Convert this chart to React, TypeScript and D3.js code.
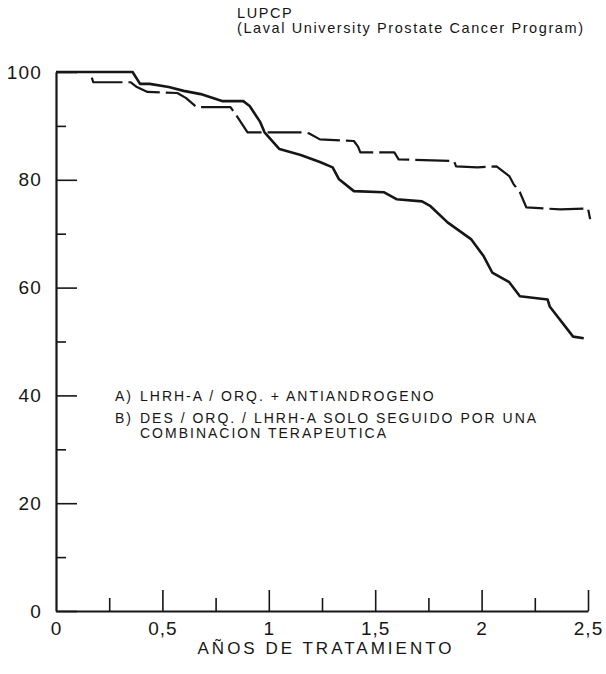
import React, { useEffect, useRef } from 'react';
import * as d3 from 'd3';

// curve: solid line (ends near 50 %)
const solidYears = [0, 0.36, 0.395, 0.44, 0.53, 0.6, 0.68, 0.78, 0.88, 0.91, 0.96, 0.98, 1.05, 1.15, 1.24, 1.3, 1.33, 1.4, 1.54, 1.6, 1.72, 1.76, 1.84, 1.95, 2.01, 2.05, 2.13, 2.18, 2.31, 2.32, 2.43, 2.48];
const solidPct = [100, 100, 97.8, 97.8, 97.2, 96.5, 95.9, 94.6, 94.6, 93.7, 90.7, 88.8, 85.7, 84.6, 83.3, 82.3, 80.1, 77.9, 77.7, 76.4, 76.0, 75.1, 72.1, 69.0, 65.8, 62.8, 61.0, 58.4, 57.8, 56.5, 50.9, 50.6];

// broken line (ends near 73 %)
const dashYears = [0, 0.16, 0.175, 0.35, 0.38, 0.43, 0.57, 0.61, 0.66, 0.82, 0.85, 0.9, 1.05, 1.15, 1.19, 1.24, 1.4, 1.42, 1.43, 1.59, 1.61, 1.87, 1.88, 1.98, 2.07, 2.13, 2.15, 2.18, 2.21, 2.37, 2.5, 2.51];
const dashPct = [100, 100, 98.1, 98.1, 97.2, 96.3, 96.1, 95.2, 93.5, 93.5, 91.8, 88.8, 88.8, 88.8, 88.6, 87.5, 87.2, 86.1, 85.1, 85.1, 83.8, 83.5, 82.5, 82.3, 82.5, 80.7, 79.2, 77.7, 74.9, 74.5, 74.7, 72.7];

const yMajor = [0, 20, 40, 60, 80, 100];
const yMinor = [10, 30, 50, 70, 90];
const xMajor = [0, 0.5, 1, 1.5, 2, 2.5];
const xMinor = [0.25, 0.75, 1.25, 1.75, 2.25];

const titleLines = ['LUPCP', '(Laval University Prostate Cancer Program)'];
const legendKeys = ['A)', 'B)'];
const legendLines = [
  ['LHRH-A / ORQ. + ANTIANDROGENO'],
  ['DES / ORQ. / LHRH-A SOLO SEGUIDO POR UNA', 'COMBINACION TERAPEUTICA'],
];
const xTitle = 'AÑOS DE TRATAMIENTO';

const FONT = '"Liberation Sans", Arial, sans-serif';
const INK = '#161616';

function App() {
  const svgRef = useRef(null);

  useEffect(() => {
    const svg = d3.select(svgRef.current);
    svg.selectAll('*').remove();

    const x = d3.scaleLinear().domain([0, 2.5]).range([56, 588]);
    const y = d3.scaleLinear().domain([0, 100]).range([611, 72]);

    const fmt = (d) => String(d).replace('.', ',');

    // y axis: ticks point inward
    svg.append('g')
      .attr('transform', `translate(${x(0)},0)`)
      .call(d3.axisLeft(y).tickValues(yMajor).tickSizeInner(-21).tickSizeOuter(0).tickPadding(14).tickFormat(d => d))
      .call(g => g.select('.domain').attr('stroke', INK).attr('stroke-width', 2.2))
      .call(g => g.selectAll('.tick line').attr('stroke', INK).attr('stroke-width', 1.6))
      .call(g => g.selectAll('.tick text')
        .attr('font-family', FONT).attr('font-size', 19).attr('letter-spacing', 1.2).attr('fill', INK));

    svg.append('g')
      .attr('transform', `translate(${x(0)},0)`)
      .call(d3.axisLeft(y).tickValues(yMinor).tickSizeInner(-10).tickSizeOuter(0).tickFormat(''))
      .call(g => g.select('.domain').remove())
      .call(g => g.selectAll('.tick line').attr('stroke', INK).attr('stroke-width', 1.6));

    // x axis: ticks point upward
    svg.append('g')
      .attr('transform', `translate(0,${y(0)})`)
      .call(d3.axisBottom(x).tickValues(xMajor).tickSizeInner(-21).tickSizeOuter(0).tickPadding(11).tickFormat(fmt))
      .call(g => g.select('.domain').attr('stroke', INK).attr('stroke-width', 2.2))
      .call(g => g.selectAll('.tick line').attr('stroke', INK).attr('stroke-width', 1.6)
        .attr('opacity', d => (d === 0 ? 0 : 1)))
      .call(g => g.selectAll('.tick text')
        .attr('font-family', FONT).attr('font-size', 19).attr('letter-spacing', 1).attr('fill', INK));

    svg.append('g')
      .attr('transform', `translate(0,${y(0)})`)
      .call(d3.axisBottom(x).tickValues(xMinor).tickSizeInner(-13).tickSizeOuter(0).tickFormat(''))
      .call(g => g.select('.domain').remove())
      .call(g => g.selectAll('.tick line').attr('stroke', INK).attr('stroke-width', 1.6));

    svg.append('text')
      .attr('x', (x(0) + x(2.5)) / 2 + 4)
      .attr('y', 654)
      .attr('text-anchor', 'middle')
      .attr('font-family', FONT)
      .attr('font-size', 17)
      .attr('letter-spacing', 3)
      .attr('fill', INK)
      .text(xTitle);

    // title
    svg.append('g')
      .selectAll('text')
      .data(titleLines)
      .join('text')
      .attr('x', 237)
      .attr('y', (d, i) => 18 + i * 15)
      .attr('font-family', FONT)
      .attr('font-size', 14.5)
      .attr('letter-spacing', 1.6)
      .attr('fill', INK)
      .text(d => d);

    // curves
    const line = d3.line()
      .x(d => x(d[0]))
      .y(d => y(d[1]));

    const solid = solidYears.map((t, i) => [t, solidPct[i]]);
    const dashed = dashYears.map((t, i) => [t, dashPct[i]]);

    svg.append('path')
      .datum(dashed)
      .attr('fill', 'none')
      .attr('stroke', INK)
      .attr('stroke-width', 2.2)
      .attr('stroke-dasharray', '34 6')
      .attr('stroke-linejoin', 'round')
      .attr('d', line);

    svg.append('path')
      .datum(solid)
      .attr('fill', 'none')
      .attr('stroke', INK)
      .attr('stroke-width', 2.6)
      .attr('stroke-linejoin', 'round')
      .attr('d', line);

    // legend
    const legend = svg.append('g')
      .attr('font-family', FONT)
      .attr('font-size', 14)
      .attr('letter-spacing', 2)
      .attr('fill', INK);

    let rowY = 401;
    legendKeys.forEach((key, i) => {
      legend.append('text').attr('x', 115).attr('y', rowY).text(key);
      legendLines[i].forEach((txt, j) => {
        legend.append('text').attr('x', 140).attr('y', rowY + j * 15).text(txt);
      });
      rowY += 22 + (legendLines[i].length - 1) * 15;
    });
  }, []);

  return (
    <svg
      ref={svgRef}
      width={606}
      height={674}
      style={{ position: 'absolute', left: 0, top: 0, background: '#fff' }}
    ></svg>
  );
}

export default App;
